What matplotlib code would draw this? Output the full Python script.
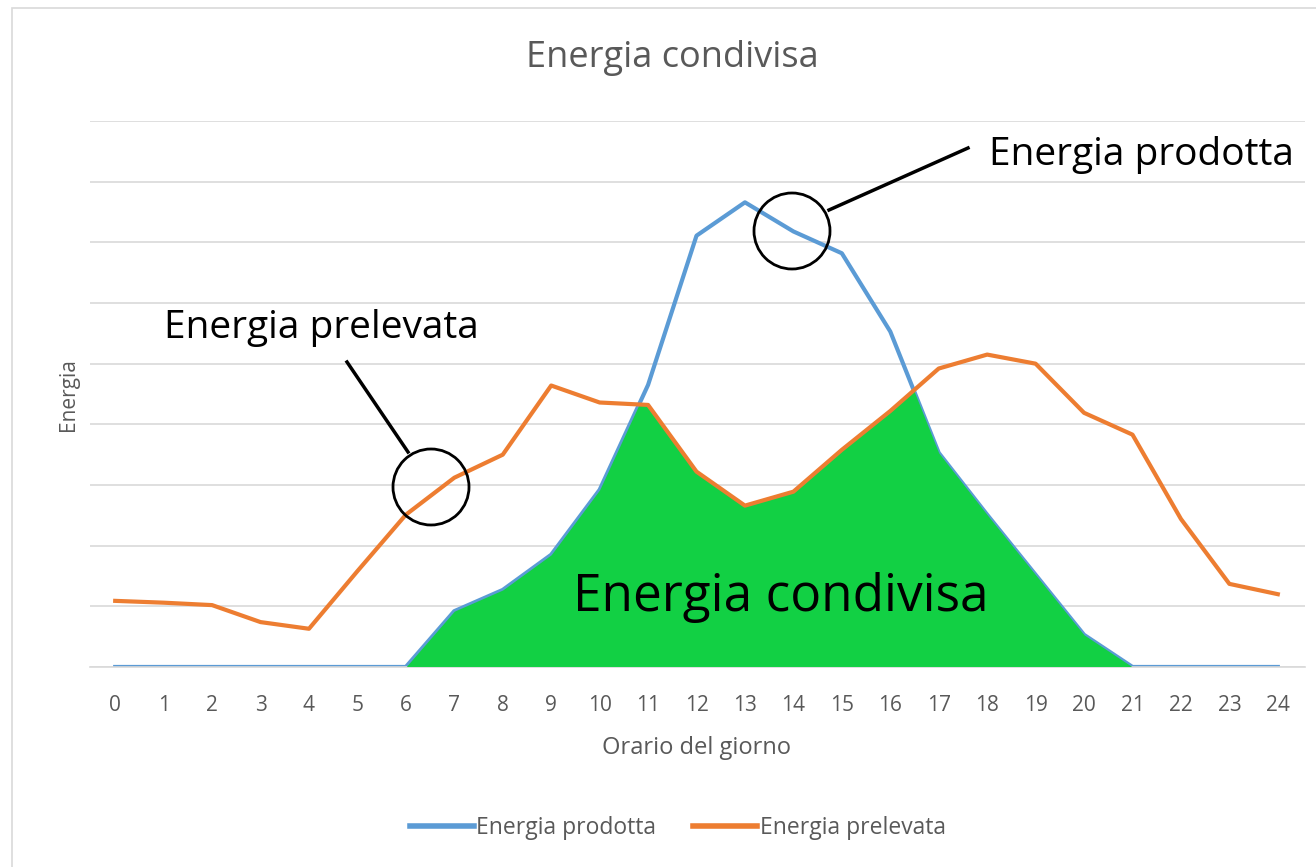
import numpy as np
import matplotlib
matplotlib.use('Agg')
import matplotlib.pyplot as plt
from matplotlib.patches import Polygon, Ellipse, Rectangle

# data (one value per hour)
hours = list(range(25))
prodotta = [0, 0, 0, 0, 0, 0, 0, 0.92, 1.27, 1.85, 2.92, 4.65, 7.11, 7.66, 7.18,
            6.82, 5.53, 3.53, 2.51, 1.52, 0.53, 0, 0, 0, 0]
prelevata = [1.09, 1.06, 1.02, 0.74, 0.63, 1.58, 2.51, 3.12, 3.50, 4.64, 4.36, 4.32, 3.22,
             2.66, 2.89, 3.58, 4.22, 4.92, 5.15, 5.0, 4.19, 3.83, 2.44, 1.37, 1.20]
tick_labels = [str(h) for h in hours]

blue = '#5B9BD5'
orange = '#ED7D31'
green = '#12D044'
gray = '#595959'

plt.rcParams['font.family'] = ['Open Sans', 'DejaVu Sans']

fig = plt.figure(figsize=(13.16, 8.67), dpi=100)
ax = fig.add_axes([0.0684, 0.2307, 0.9232, 0.6297])

# outer chart frame
fig.patches.append(Rectangle((12 / 1316, -0.01), 1.0, 1 - 8 / 867 + 0.01,
                             transform=fig.transFigure, fill=False,
                             edgecolor='#D9D9D9', linewidth=1.2))

ax.plot(hours, prodotta, color=blue, linewidth=3, label='Energia prodotta', zorder=2)

# shared energy = area under both curves
fill = ax.fill_between(hours, 0, prodotta, color=green, linewidth=0, zorder=3)
clip = Polygon([(hours[0], 0)] + list(zip(hours, prelevata)) + [(hours[-1], 0)],
               closed=True, transform=ax.transData)
fill.set_clip_path(clip)

ax.plot(hours, prelevata, color=orange, linewidth=3, label='Energia prelevata', zorder=4)

ax.set_xlim(-0.52, 24.56)
ax.set_ylim(0, 9)
ax.set_yticks(np.arange(0, 10, 1))
ax.yaxis.grid(True, color='#D9D9D9', linewidth=1.2, zorder=0)
ax.set_axisbelow(True)
ax.tick_params(axis='y', left=False, labelleft=False)
ax.set_xticks(hours)
ax.set_xticklabels(tick_labels, color=gray, fontsize=15)
ax.tick_params(axis='x', length=0, pad=20)
for s in ['top', 'right', 'left']:
    ax.spines[s].set_visible(False)
ax.spines['bottom'].set_color('#D9D9D9')
ax.spines['bottom'].set_linewidth(1.2)

fig.text(0.5296, 0.137, 'Orario del giorno', color=gray, fontsize=17,
         ha='center', va='center')
fig.text(0.0517, 0.5444, 'Energia', rotation=90, color=gray, fontsize=15,
         ha='center', va='center')
fig.text(0.511, 0.933, 'Energia condivisa', color=gray, fontsize=26,
         ha='center', va='center')

# callouts
fig.text(0.867, 0.821, 'Energia prodotta', fontsize=28, ha='center', va='center')
fig.text(0.244, 0.622, 'Energia prelevata', fontsize=28, ha='center', va='center')
fig.text(0.5935, 0.311, 'Energia condivisa', fontsize=37, ha='center', va='center')

for cx, cy in [(792, 231), (431, 487)]:
    fig.patches.append(Ellipse((cx / 1316, 1 - cy / 867), 76 / 1316, 76 / 867,
                               transform=fig.transFigure, fill=False,
                               edgecolor='black', linewidth=2, zorder=10))
fig.lines.append(plt.Line2D([829 / 1316, 968 / 1316], [1 - 210 / 867, 1 - 148 / 867],
                            transform=fig.transFigure, color='black', linewidth=2.5))
fig.lines.append(plt.Line2D([408 / 1316, 347 / 1316], [1 - 452 / 867, 1 - 362 / 867],
                            transform=fig.transFigure, color='black', linewidth=2.5))

leg = fig.legend(loc='center', bbox_to_anchor=(0.515, 0.045), ncol=2, frameon=False,
                 fontsize=16.5, handlelength=2.8, handletextpad=0.1, columnspacing=1.6)
for t in leg.get_texts():
    t.set_color(gray)
for h in leg.legend_handles:
    h.set_linewidth(4)

fig.savefig('out.png', dpi=100, facecolor='white')
